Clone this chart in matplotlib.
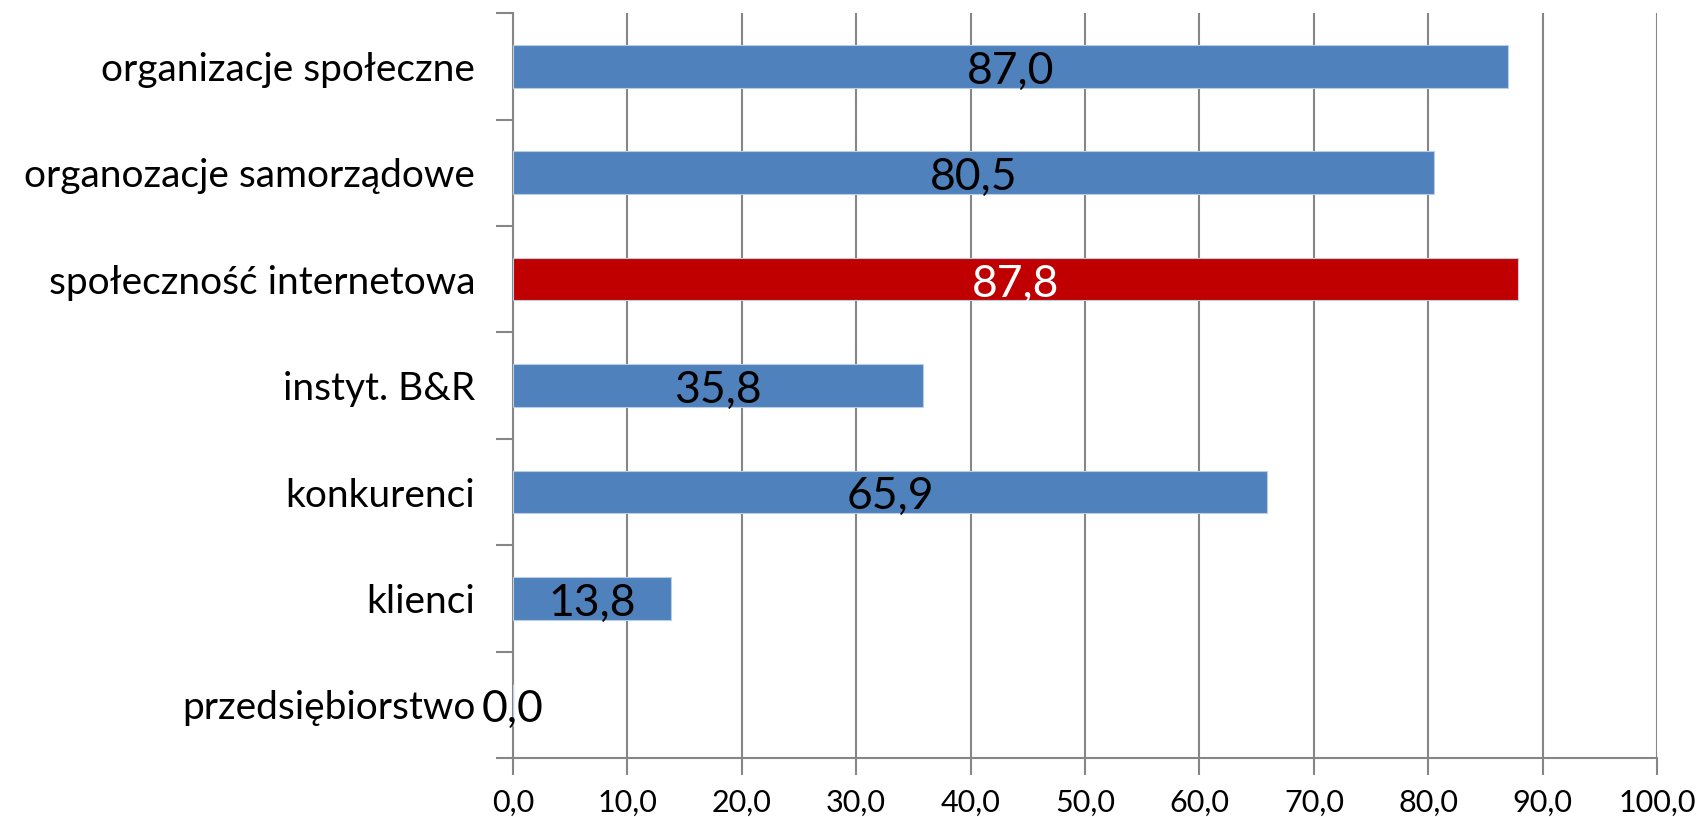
import numpy as np
import matplotlib.pyplot as plt
from matplotlib.ticker import MultipleLocator, FixedLocator

plt.rcParams['font.family'] = ['Lato', 'DejaVu Sans']

# categories listed bottom -> top
categories = ["przedsiębiorstwo", "klienci", "konkurenci", "instyt. B&R",
              "społeczność internetowa", "organozacje samorządowe",
              "organizacje społeczne"]
values = [0.0, 13.8, 65.9, 35.8, 87.8, 80.5, 87.0]
highlight = "społeczność internetowa"

blue = "#4F81BD"
red = "#C00000"
grid_col = "#868686"

fig = plt.figure(figsize=(16.98, 8.17), dpi=100)
ax = fig.add_axes([0.302, 0.072, 0.674, 0.912])

y = np.arange(len(categories))
colors = [red if c == highlight else blue for c in categories]
bars = ax.barh(y, values, height=0.4, color=colors, edgecolor="#B9CDE5",
               linewidth=0.8, zorder=3)

for b, c, v in zip(bars, categories, values):
    txt_col = "white" if c == highlight else "black"
    ax.text(v / 2, b.get_y() + b.get_height() / 2 - 0.045,
            f"{v:.1f}".replace(".", ","),
            ha="center", va="center", fontsize=32, color=txt_col, zorder=4)

ax.set_xlim(0, 100)
ax.set_ylim(-0.5, len(categories) - 0.5)
ax.xaxis.set_major_locator(MultipleLocator(10))
ax.set_xticklabels([f"{t:.1f}".replace(".", ",") for t in ax.get_xticks()])
ax.set_yticks(y)
ax.set_yticklabels(categories)
ax.yaxis.set_minor_locator(FixedLocator(np.arange(-0.5, len(categories), 1.0)))

ax.tick_params(axis="y", which="major", length=0, pad=27, labelsize=28)
ax.tick_params(axis="y", which="minor", length=12, width=1.5, color=grid_col)
ax.tick_params(axis="x", length=12, width=1.5, color=grid_col, labelsize=22, pad=10)

ax.grid(axis="x", color=grid_col, linewidth=1.5, zorder=0)
for s in ["top", "right"]:
    ax.spines[s].set_visible(False)
for s in ["left", "bottom"]:
    ax.spines[s].set_color(grid_col)
    ax.spines[s].set_linewidth(1.5)

fig.savefig("out.png", dpi=100)
